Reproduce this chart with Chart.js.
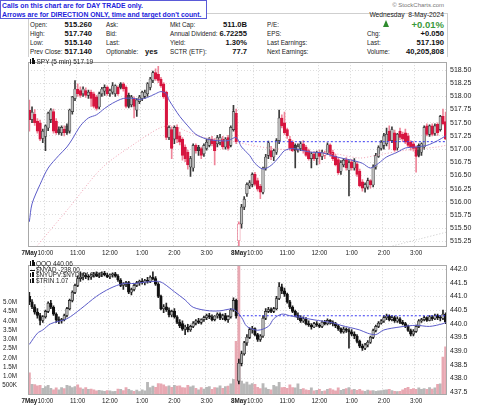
<!DOCTYPE html>
<html><head><meta charset="utf-8">
<script src="https://cdn.jsdelivr.net/npm/chart.js@4.4.1/dist/chart.umd.min.js"></script>
<style>
body{margin:0;width:480px;height:406px;background:#fff;position:relative;overflow:hidden;font-family:"Liberation Sans",Arial,sans-serif;}
.t{position:absolute;white-space:nowrap;color:#222;font-size:6.3px;line-height:8px;}
.v{position:absolute;white-space:nowrap;color:#111;font-weight:bold;font-size:7.6px;line-height:8px;}
canvas{position:absolute;left:0;}
.ic{position:absolute;background:#111;}
</style></head>
<body>
<div id="note" style="position:absolute;left:0;top:0;width:204px;height:17px;border:1px solid #5a5ad8;background:#fff;color:#2323dc;font-weight:bold;font-size:6.85px;line-height:9px;padding-left:1px;z-index:5;white-space:nowrap">Calls on this chart are for DAY TRADE only.<br>Arrows are for DIRECTION ONLY, time and target don't count.</div>
<div style="position:absolute;left:28px;top:13px;width:418px;height:43px;border:1px solid #cfcfcf;border-bottom:none"></div>
<div class="t" style="right:36px;top:1px;font-size:6px;color:#777">© StockCharts.com</div>
<div class="t" style="right:36px;top:11px;font-size:6.7px">Wednesday&nbsp; 8-May-2024</div>
<div style="position:absolute;left:383px;top:20px;width:0;height:0;border-left:3.5px solid transparent;border-right:3.5px solid transparent;border-bottom:7px solid #2e8b2e"></div>
<div class="v" style="right:36px;top:20px;font-size:9.5px;line-height:10px;color:#3a9a3a">+0.01%</div>

<div class="t" style="left:30px;top:21px">Open:</div><div class="v" style="right:388px;top:21px">515.260</div>
<div class="t" style="left:30px;top:29.5px">High:</div><div class="v" style="right:388px;top:29.5px">517.740</div>
<div class="t" style="left:30px;top:38.5px">Low:</div><div class="v" style="right:388px;top:38.5px">515.140</div>
<div class="t" style="left:30px;top:47.5px">Prev Close:</div><div class="v" style="right:388px;top:47.5px">517.140</div>

<div class="t" style="left:106px;top:21px">Ask:</div>
<div class="t" style="left:106px;top:29.5px">Bid:</div>
<div class="t" style="left:106px;top:38.5px">Last:</div>
<div class="t" style="left:106px;top:47.5px">Optionable:</div><div class="v" style="left:145px;top:47.5px">yes</div>

<div class="t" style="left:170px;top:21px">Mkt Cap:</div><div class="v" style="right:233px;top:21px">511.0B</div>
<div class="t" style="left:170px;top:29.5px">Annual Dividend:</div><div class="v" style="right:233px;top:29.5px">6.72255</div>
<div class="t" style="left:170px;top:38.5px">Yield:</div><div class="v" style="right:233px;top:38.5px">1.30%</div>
<div class="t" style="left:170px;top:47.5px">SCTR (ETF):</div><div class="v" style="right:233px;top:47.5px">77.7</div>

<div class="t" style="left:267px;top:21px">P/E:</div>
<div class="t" style="left:267px;top:29.5px">EPS:</div>
<div class="t" style="left:267px;top:38.5px">Last Earnings:</div>
<div class="t" style="left:267px;top:47.5px">Next Earnings:</div>

<div class="t" style="left:367px;top:29.5px">Chg:</div><div class="v" style="right:36px;top:29.5px">+0.050</div>
<div class="t" style="left:367px;top:38.5px">Last:</div><div class="v" style="right:36px;top:38.5px">517.190</div>
<div class="t" style="left:367px;top:47.5px">Volume:</div><div class="v" style="right:36px;top:47.5px">40,205,808</div>

<canvas id="c1" width="480" height="203" style="top:55px"></canvas>
<canvas id="c2" width="480" height="148" style="top:258px"></canvas>

<div class="ic" style="left:30px;top:59px;width:1px;height:5px"></div><div class="ic" style="left:31.5px;top:58px;width:2px;height:6px"></div><div class="ic" style="left:34px;top:60px;width:1px;height:4px"></div>
<div class="t" style="left:36.5px;top:57.5px;font-size:6.5px">SPY (5 min) 517.19</div>

<div class="ic" style="left:30px;top:261px;width:1px;height:5px"></div><div class="ic" style="left:31.5px;top:260px;width:2px;height:6px"></div><div class="ic" style="left:34px;top:262px;width:1px;height:4px"></div>
<div class="t" style="left:36px;top:259.5px;font-size:6.5px">QQQ 440.06</div>
<div class="ic" style="left:30px;top:269.5px;width:5px;height:1px"></div>
<div class="t" style="left:36px;top:265.5px;font-size:6.3px">$NYAD -238.00</div>
<div class="ic" style="left:30px;top:273px;width:1px;height:4px"></div><div class="ic" style="left:32px;top:272px;width:2px;height:5px"></div>
<div class="t" style="left:36px;top:271.2px;font-size:6.3px">$NYUPV:$NYDNV 0.80</div>
<div class="ic" style="left:30px;top:279px;width:1px;height:4px"></div><div class="ic" style="left:32px;top:278px;width:2px;height:5px"></div>
<div class="t" style="left:36px;top:277px;font-size:6.3px">$TRIN 1.07</div>

<script>
// ---------- categories ----------
const sessionDays = ['7May','8May'];
const barsPerDay = 78;
const xTickIdx  = [0,6,18,30,42,54,66,78,84,96,108,120,132,144];
const xTickText = ['7May','10:00','11:00','12:00','1:00','2:00','3:00','8May','10:00','11:00','12:00','1:00','2:00','3:00'];
const gridIdx   = [6,18,30,42,54,66,78,84,96,108,120,132,144];
const spyTicks  = [515.25,515.5,515.75,516,516.25,516.5,516.75,517,517.25,517.5,517.75,518,518.25,518.5];
const qqqTicks  = [437.5,438,438.5,439,439.5,440,440.5,441,441.5,442];
const volTicks  = [0.5,1,1.5,2,2.5,3,3.5,4,4.5,5];
const spyRange  = [515.142, 518.648];
const qqqRange  = [437.39, 442.14];
const volRange  = [0, 7.0];
const spyPrevClose = 517.14;
const qqqPrevClose = 440.29;

// ---------- SPY 5-min OHLC ----------
const spyOpen = [
517.74,517.56,517.66,517.53,517.50,517.20,517.24,517.40,517.56,517.71,
517.53,517.37,517.31,517.38,517.44,517.34,517.71,517.96,518.14,518.11,
518.05,518.11,518.02,518.08,518.05,517.99,517.80,518.05,518.10,518.17,
518.05,518.08,518.05,518.17,518.24,518.24,518.17,518.02,517.84,517.96,
517.74,517.90,517.96,518.00,518.05,518.17,518.30,518.45,518.42,518.33,
518.24,518.08,517.22,517.37,517.19,517.41,517.25,517.19,517.04,516.94,
516.66,516.64,517.07,517.04,517.01,516.91,517.01,517.07,517.19,517.16,
517.10,517.13,517.19,517.04,517.22,517.07,517.37,517.68,
515.26,515.58,515.90,516.15,516.30,516.33,516.52,516.40,516.30,516.18,
516.64,516.88,516.97,516.85,516.94,517.16,517.59,517.50,517.37,517.19,
517.13,517.07,516.99,517.01,517.10,517.04,516.97,516.82,516.91,516.82,
516.94,516.86,516.88,516.92,517.08,516.94,516.86,516.80,516.58,516.70,
516.80,516.60,516.76,516.64,516.72,516.58,516.38,516.26,516.28,516.40,
516.32,516.66,516.86,517.01,517.07,517.10,517.34,517.16,517.31,517.02,
517.34,517.28,517.31,517.25,517.13,517.10,517.04,517.07,516.94,517.04,
517.44,517.28,517.44,517.30,517.47,517.37,517.62,517.52];
const spyHigh = [
517.93,517.80,517.75,517.58,517.55,517.38,517.46,517.70,517.77,517.76,
517.58,517.42,517.44,517.44,517.48,517.76,518.00,518.30,518.24,518.18,
518.18,518.16,518.12,518.12,518.08,518.02,518.08,518.17,518.22,518.20,
518.14,518.26,518.22,518.20,518.26,518.26,518.20,518.06,518.02,517.99,
517.96,518.02,518.10,518.12,518.26,518.36,518.48,518.52,518.57,518.36,
518.26,518.10,517.44,517.42,517.44,517.46,517.32,517.22,517.08,516.98,
516.86,517.10,517.10,517.07,517.04,517.10,517.19,517.22,517.24,517.20,
517.26,517.28,517.24,517.22,517.26,517.44,517.83,517.76,
515.62,515.95,516.10,516.36,516.40,516.55,516.56,516.45,516.33,516.66,
516.90,517.15,517.05,517.00,517.20,517.74,517.65,517.70,517.40,517.24,
517.16,517.10,517.10,517.14,517.16,517.07,517.00,516.94,516.95,516.96,
516.98,516.98,516.96,517.12,517.10,516.98,516.90,516.84,516.78,516.82,
516.84,516.78,516.80,516.82,516.76,516.62,516.42,516.36,516.45,516.42,
516.70,516.92,517.06,517.16,517.30,517.40,517.44,517.42,517.36,517.30,
517.40,517.32,517.38,517.30,517.16,517.14,517.06,517.10,517.12,517.44,
517.48,517.46,517.48,517.48,517.50,517.64,517.76,517.70];
const spyLow = [
517.34,517.50,517.45,517.30,517.16,517.12,516.97,517.35,517.50,517.30,
517.28,517.28,517.26,517.25,517.28,517.30,517.66,517.92,518.00,517.98,
518.00,517.98,517.96,517.81,517.78,517.74,517.76,518.00,518.02,518.02,
518.00,518.04,518.00,518.02,518.14,518.10,517.78,517.78,517.80,517.59,
517.62,517.86,517.92,517.96,518.00,518.12,518.26,518.30,518.26,518.17,
517.96,517.18,517.18,516.82,517.10,517.12,517.08,516.79,516.76,516.62,
516.48,516.58,516.92,516.88,516.82,516.86,516.98,517.04,517.06,516.70,
517.04,517.08,517.00,517.00,516.98,517.04,517.34,517.10,
515.14,515.50,515.85,516.10,516.25,516.28,516.30,516.20,516.06,516.15,
516.60,516.82,516.80,516.78,516.90,517.10,517.40,517.28,517.20,516.98,
516.95,516.64,516.94,516.97,516.92,516.86,516.79,516.64,516.78,516.70,
516.72,516.80,516.82,516.90,516.86,516.78,516.68,516.52,516.52,516.66,
516.60,516.11,516.60,516.60,516.48,516.28,516.20,516.18,516.24,516.26,
516.28,516.62,516.84,516.98,517.00,517.06,517.00,517.12,516.96,516.98,
517.18,517.14,517.10,517.04,516.98,516.96,516.56,516.85,516.88,517.00,
517.25,517.24,517.25,517.26,517.26,517.34,517.46,517.18];
const spyClose = [
517.56,517.70,517.50,517.34,517.19,517.34,517.44,517.68,517.74,517.34,
517.31,517.31,517.41,517.31,517.31,517.74,517.99,518.14,518.05,518.02,
518.14,518.02,518.08,517.96,517.81,517.77,518.05,518.14,518.17,518.05,
518.11,518.20,518.20,518.05,518.17,518.14,517.81,517.81,517.99,517.81,
517.93,517.99,518.08,518.08,518.24,518.33,518.45,518.33,518.30,518.20,
517.99,517.22,517.41,517.01,517.41,517.19,517.13,516.88,516.82,516.70,
516.82,517.07,516.97,516.97,516.88,517.07,517.13,517.19,517.10,516.97,
517.22,517.22,517.04,517.19,517.01,517.41,517.71,517.14,
515.58,515.90,516.05,516.33,516.36,516.52,516.33,516.24,516.18,516.64,
516.85,517.12,516.85,516.97,517.16,517.59,517.44,517.31,517.25,517.01,
516.97,516.97,517.05,517.10,516.97,516.88,516.82,516.91,516.82,516.94,
516.86,516.94,516.92,517.08,516.90,516.82,516.70,516.55,516.74,516.79,
516.64,516.74,516.64,516.76,516.52,516.30,516.26,516.33,516.40,516.32,
516.66,516.88,517.03,517.13,517.25,517.28,517.16,517.37,516.98,517.28,
517.22,517.19,517.13,517.07,517.04,517.01,516.86,516.88,517.10,517.41,
517.28,517.44,517.28,517.44,517.31,517.62,517.48,517.19];

// ---------- QQQ 5-min OHLC ----------
const qqqOpen = [
441.00,440.80,440.62,440.42,440.30,440.12,440.25,440.45,440.75,440.60,
440.35,440.15,440.10,440.15,440.30,440.55,440.85,441.15,441.40,441.65,
441.70,441.78,441.72,441.70,441.78,441.82,441.75,441.80,441.85,441.78,
441.72,441.78,441.82,441.74,441.60,441.40,441.45,441.50,441.15,441.25,
441.40,441.50,441.55,441.50,441.58,441.55,441.70,441.65,441.45,441.00,
440.55,440.62,440.50,440.32,440.45,440.25,440.05,440.00,439.80,439.88,
439.78,439.90,440.02,440.10,440.05,440.15,440.22,440.30,440.25,440.15,
440.28,440.35,440.20,440.30,440.15,440.25,440.50,440.85,
437.90,438.55,438.90,439.30,439.50,439.78,439.82,439.60,439.42,439.55,
440.20,440.45,440.52,440.45,440.55,440.92,441.35,441.20,441.08,440.80,
440.60,440.45,440.30,440.22,440.10,440.18,440.00,439.95,439.88,440.00,
439.95,439.90,440.05,440.00,440.12,440.05,440.00,439.92,439.82,439.70,
439.80,439.75,439.70,439.62,439.55,439.35,439.18,439.10,439.22,439.32,
439.50,439.75,439.90,440.02,440.10,440.22,440.28,440.15,440.22,440.10,
440.18,440.05,440.00,439.90,439.75,439.62,439.72,439.90,440.10,440.15,
440.22,440.12,440.25,440.18,440.30,440.22,440.20,440.35];
const qqqHigh = [
441.15,440.88,440.70,440.55,440.38,440.30,440.50,440.80,440.85,440.65,
440.40,440.25,440.20,440.35,440.60,440.90,441.20,441.45,441.75,441.90,
441.85,441.85,441.80,441.82,441.88,441.90,441.85,441.90,441.92,441.85,
441.82,441.86,441.88,441.80,441.65,441.50,441.55,441.55,441.30,441.45,
441.55,441.60,441.65,441.62,441.70,441.75,441.90,441.72,441.50,441.05,
440.70,440.75,440.58,440.50,440.55,440.30,440.15,440.10,439.95,439.98,
439.95,440.08,440.15,440.20,440.18,440.28,440.35,440.38,440.32,440.30,
440.40,440.40,440.35,440.38,440.30,440.55,440.95,440.90,
438.70,439.00,439.35,439.60,439.85,439.90,439.85,439.65,439.60,440.30,
440.55,440.60,440.58,440.60,441.00,441.50,441.45,441.30,441.12,440.85,
440.65,440.50,440.40,440.30,440.25,440.22,440.10,440.00,440.05,440.08,
440.00,440.10,440.12,440.18,440.15,440.10,440.05,439.98,439.85,439.88,
439.85,439.82,439.78,439.70,439.60,439.40,439.25,439.28,439.38,439.55,
439.80,439.95,440.08,440.15,440.30,440.35,440.32,440.30,440.28,440.25,
440.22,440.12,440.05,439.95,439.80,439.78,439.95,440.15,440.20,440.28,
440.25,440.30,440.30,440.35,440.35,440.30,440.50,440.40];
const qqqLow = [
440.70,440.55,440.35,440.20,439.95,440.05,440.20,440.40,440.55,440.30,
440.05,440.00,440.02,440.10,440.25,440.50,440.80,441.10,441.35,441.55,
441.60,441.65,441.60,441.62,441.70,441.72,441.68,441.72,441.75,441.68,
441.65,441.70,441.70,441.55,441.35,441.25,441.35,441.10,441.05,441.20,
441.35,441.40,441.45,441.42,441.48,441.50,441.60,441.40,440.95,440.50,
440.40,440.45,440.25,440.25,440.20,440.00,439.85,439.75,439.60,439.70,
439.72,439.85,439.95,440.00,439.98,440.08,440.15,440.18,440.10,440.10,
440.20,440.15,440.15,440.10,440.05,440.20,440.45,440.20,
437.80,438.45,438.85,439.20,439.45,439.65,439.55,439.35,439.35,439.50,
440.15,440.40,440.40,440.40,440.50,440.88,441.10,441.00,440.75,440.55,
440.40,440.25,440.15,440.05,440.05,439.95,439.90,439.80,439.85,439.90,
439.85,439.85,439.95,439.95,439.98,439.92,439.85,439.75,439.65,439.65,
439.68,439.10,439.55,439.45,439.30,439.12,439.02,439.05,439.15,439.28,
439.45,439.70,439.85,439.98,440.05,440.15,440.10,440.10,440.05,440.05,
440.00,439.95,439.85,439.72,439.55,439.55,439.68,439.85,440.05,440.10,
440.08,440.10,440.12,440.15,440.15,440.10,440.15,440.00];
const qqqClose = [
440.80,440.62,440.42,440.30,440.12,440.25,440.45,440.75,440.60,440.35,
440.15,440.10,440.15,440.30,440.55,440.85,441.15,441.40,441.65,441.70,
441.78,441.72,441.70,441.78,441.82,441.75,441.80,441.85,441.78,441.72,
441.78,441.82,441.74,441.60,441.40,441.45,441.50,441.15,441.25,441.40,
441.50,441.55,441.50,441.58,441.55,441.70,441.65,441.45,441.00,440.55,
440.62,440.50,440.32,440.45,440.25,440.05,439.92,439.80,439.88,439.78,
439.90,440.02,440.10,440.05,440.15,440.22,440.30,440.25,440.15,440.28,
440.35,440.20,440.30,440.15,440.25,440.50,440.85,440.28,
438.55,438.90,439.30,439.50,439.78,439.82,439.60,439.42,439.55,440.20,
440.45,440.52,440.45,440.55,440.92,441.35,441.20,441.08,440.80,440.60,
440.45,440.30,440.22,440.10,440.18,440.00,439.95,439.88,440.00,439.95,
439.90,440.05,440.00,440.12,440.05,440.00,439.92,439.82,439.70,439.80,
439.75,439.70,439.62,439.55,439.35,439.18,439.10,439.22,439.32,439.50,
439.75,439.90,440.02,440.10,440.22,440.28,440.15,440.22,440.10,440.18,
440.05,440.00,439.90,439.75,439.62,439.72,439.90,440.10,440.15,440.22,
440.12,440.25,440.18,440.30,440.22,440.20,440.35,440.06];

// ---------- volume (millions of shares) ----------
const volume = [
1.20,0.58,0.56,0.50,0.52,0.36,0.45,0.52,0.36,0.28,0.38,0.28,
0.40,0.34,0.52,0.48,0.40,0.45,0.55,0.38,0.32,0.40,0.30,0.32,
0.28,0.22,0.25,0.22,0.20,0.24,0.22,0.18,0.20,0.32,0.30,0.24,
0.40,0.30,0.24,0.20,0.26,0.18,0.28,0.22,0.68,0.40,0.48,0.42,
0.62,0.60,0.55,0.45,0.50,0.42,0.52,0.48,0.50,0.40,0.38,0.52,
0.44,0.50,0.36,0.28,0.40,0.32,0.42,0.46,0.30,0.40,0.38,0.50,
0.36,0.45,0.48,0.60,0.85,2.90,
7.00,0.75,0.60,0.70,0.55,0.62,0.58,0.42,0.35,0.62,0.38,0.30,
0.28,0.52,0.45,0.68,0.40,0.42,0.36,0.55,0.40,0.38,0.60,0.30,
0.35,0.28,0.25,0.38,0.22,0.25,0.30,0.20,0.22,0.30,0.35,0.28,
0.22,0.38,0.25,0.30,0.35,0.40,0.28,0.30,0.25,0.30,0.22,0.20,
0.26,0.22,0.24,0.20,0.22,0.24,0.26,0.28,0.30,0.24,0.20,0.18,
0.20,0.28,0.36,0.42,0.30,0.34,0.30,0.38,0.30,0.34,0.30,0.40,
0.32,0.38,0.58,0.60,2.05,2.60];

// ---------- moving averages (sampled points) ----------
const spyMaIdx = [0,1,4,7,11,14,16,19,22,25,28,31,35,39,41,44,47,49,51,52,54,56,59,62,66,70,74,77,79,82,84,87,90,93,95,98,102,105,109,113,117,120,124,127,130,133,137,140,144,148,152,155];
const spyMaVal = [515.62,515.96,516.33,516.64,516.88,517.04,517.19,517.44,517.59,517.65,517.77,517.87,517.96,517.96,517.94,517.98,518.05,518.09,518.05,517.93,517.77,517.62,517.44,517.28,517.19,517.16,517.16,517.22,517.04,516.88,516.73,516.62,516.69,516.85,516.97,517.01,516.97,516.94,516.93,516.87,516.82,516.79,516.73,516.64,516.73,516.85,516.94,517.02,517.04,517.07,517.16,517.25];
const spyMa2Idx = [2,15,27,40,49,54,57,65,74,82,89,102,114,123,129,139,152,155];
const spyMa2Val = [515.11,515.90,516.64,517.13,517.41,517.44,517.37,517.22,517.16,517.08,517.02,516.96,516.91,516.83,516.88,516.97,517.04,517.07];
const spyMa3Idx = [132,145,155];
const spyMa3Val = [515.12,515.29,515.42];
const qqqMaIdx = [0,3,5,8,14,19,25,30,35,39,43,48,50,54,58,61,67,71,76,79,81,85,89,91,94,97,101,106,113,116,123,126,129,132,138,144,149,154,155];
const qqqMaVal = [439.24,439.65,439.77,440.00,440.18,440.53,441.00,441.29,441.47,441.47,441.52,441.55,441.47,441.17,440.87,440.60,440.47,440.47,440.53,440.23,439.90,439.76,439.90,440.18,440.35,440.29,440.23,440.14,440.03,439.94,439.77,439.65,439.60,439.77,439.88,439.94,439.90,440.00,440.05];

// ---------- build ----------
const N = spyClose.length;
const labels = [];
for (let d = 0; d < sessionDays.length; d++)
  for (let k = 0; k < barsPerDay; k++) {
    const m = 9*60+30+5*k;
    labels.push(sessionDays[d]+' '+Math.floor(m/60)+':'+String(m%60).padStart(2,'0'));
  }
const tickMap = {}; xTickIdx.forEach((k,j)=>tickMap[k]=xTickText[j]);
const sparse = (idx, vals) => { const a = new Array(N).fill(null); idx.forEach((k,j)=>a[k]=vals[j]); return a; };
const FONT = 'Liberation Sans';

function candles(o,h,l,c,axis,colored){
  const wick=[], body=[], fill=[], edge=[], wc=[];
  for (let i=0;i<N;i++){
    wick.push([l[i],h[i]]);
    body.push([Math.min(o[i],c[i]), Math.max(o[i],c[i])]);
    const prev = i ? c[i-1] : o[i];
    const red = colored && c[i] < prev;
    const filled = c[i] < o[i];
    if (red) { fill.push(filled ? '#d7153f' : '#ffffff'); edge.push(filled ? '#d7153f' : '#e0506e'); wc.push('#ee8599'); }
    else if (colored) { fill.push(filled ? '#444' : '#bcbcbc'); edge.push('#2a2a2a'); wc.push('#3a3a3a'); }
    else { fill.push(filled ? '#111' : '#b0b0b0'); edge.push('#111'); wc.push('#222'); }
  }
  return [
    {type:'bar', data:wick, yAxisID:axis, grouped:false, barThickness:1, backgroundColor:wc, order:3},
    {type:'bar', data:body, yAxisID:axis, grouped:false, barThickness:2.6, backgroundColor:fill, borderColor:edge, borderWidth:0.6, borderSkipped:false, minBarLength:1, order:2}
  ];
}
const line = (data, axis, color, dash, w) => ({type:'line', data, yAxisID:axis, borderColor:color, borderWidth:w||1, borderDash:dash||[], pointRadius:0, spanGaps:true, fill:false, tension:0.3, order:0});

const frame = {id:'frame', afterDatasetsDraw(chart){
  const {ctx, chartArea:a} = chart; ctx.save(); ctx.strokeStyle='#a8a8a8'; ctx.lineWidth=1;
  ctx.strokeRect(Math.round(a.left)+0.5, Math.round(a.top)+0.5, Math.round(a.right-a.left)-1, Math.round(a.bottom-a.top)-1);
  ctx.restore(); }};

const xScale = h => ({
  type:'category', offset:true,
  grid:{offset:true, drawTicks:false, lineWidth:1, color: c => gridIdx.includes(c.index) ? '#d6d6d6' : 'rgba(0,0,0,0)'},
  border:{display:false, dash:[1,2]},
  ticks:{autoSkip:false, maxRotation:0, minRotation:0, padding:2, color:'#222',
    font: c => ({family:FONT, size:6.3, weight:(c.index===0||c.index===78)?'bold':'normal'}),
    callback:(v,i)=> tickMap[i] || ''},
  afterFit: s => { s.height = h; }
});
const priceScale = (rng, ticks, dec, pos) => ({
  position:pos, min:rng[0], max:rng[1],
  grid:{drawTicks:false, color:'#dedede', lineWidth:1}, border:{display:false, dash:[1,2]},
  ticks:{padding:3, color:'#222', font:{family:FONT, size:7}, callback: v => Number(v).toFixed(dec)},
  afterBuildTicks: s => { s.ticks = ticks.map(v=>({value:v})); },
  afterFit: s => { s.width = 33; }
});
const common = {responsive:false, animation:false, events:[],
  plugins:{legend:{display:false}, tooltip:{enabled:false}}};

new Chart(document.getElementById('c1'), {
  type:'bar',
  data:{labels, datasets:[
    line(sparse(spyMaIdx, spyMaVal), 'y', '#5b5bc8', [], 1),
    line(sparse(spyMa2Idx, spyMa2Val), 'y', '#f0a0b2', [1,2], 1),
    line(sparse(spyMa3Idx, spyMa3Val), 'y', '#c8c8c8', [1,2], 1),
    line(labels.map((_,i)=> i>=barsPerDay ? spyPrevClose : null), 'y', '#3535f0', [2,2], 1),
    ...candles(spyOpen, spyHigh, spyLow, spyClose, 'y', true)
  ]},
  options:{...common, layout:{padding:{left:28, top:2, right:0, bottom:0}},
    scales:{x:xScale(11), y:priceScale(spyRange, spyTicks, 2, 'right')}},
  plugins:[frame]
});

const volColors = spyClose.map((c,i)=> c < (i ? spyClose[i-1] : spyOpen[i]) ? '#e8a8b2' : '#b8b8b8');
new Chart(document.getElementById('c2'), {
  type:'bar',
  data:{labels, datasets:[
    {type:'bar', data:volume, yAxisID:'yV', grouped:false, barThickness:2.2, backgroundColor:volColors, order:6},
    line(sparse(qqqMaIdx, qqqMaVal), 'yP', '#5b5bc8', [], 1),
    line(labels.map((_,i)=> i>=barsPerDay ? qqqPrevClose : null), 'yP', '#3535f0', [2,2], 1),
    ...candles(qqqOpen, qqqHigh, qqqLow, qqqClose, 'yP', false)
  ]},
  options:{...common, layout:{padding:{left:0, top:0, right:0, bottom:0}},
    scales:{
      x:xScale(11),
      yV:{position:'left', min:volRange[0], max:volRange[1], grid:{display:false}, border:{display:false},
        ticks:{padding:3, color:'#222', font:{family:FONT, size:6.3}, callback: v => v < 1 ? Math.round(v*1000)+'K' : Number(v).toFixed(1)+'M'},
        afterBuildTicks: s => { s.ticks = volTicks.map(v=>({value:v})); },
        afterFit: s => { s.width = 28; }},
      yP:priceScale(qqqRange, qqqTicks, 1, 'right')
    }},
  plugins:[frame]
});
</script>
</body></html>
